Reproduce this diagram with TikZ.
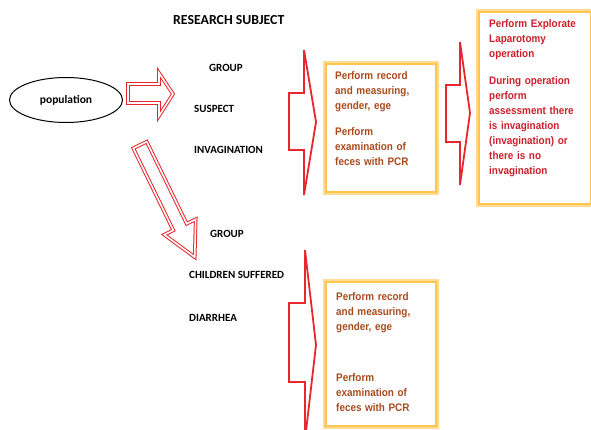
\documentclass[tikz,border=0pt]{standalone}
\usepackage{fontspec}
\usetikzlibrary{shapes.geometric}
\setmainfont{Liberation Sans}
\newfontfamily\calib{Carlito}
\newfontfamily\narrowsans[FakeStretch=0.9]{Liberation Sans}
\definecolor{boxout}{HTML}{FFDC92}
\definecolor{boxin}{HTML}{FFC64F}
\definecolor{txtbrown}{HTML}{A84A1C}
\definecolor{txtred}{HTML}{CC1F2A}
\definecolor{arrred}{HTML}{E8262E}
\tikzset{
  lbl/.style={anchor=west, inner sep=0pt, font=\calib\bfseries\fontsize{11}{13}\selectfont},
  dblarrow/.style={draw=arrred, line width=1pt, double=white, double distance=1.6pt, line join=miter},
  bigarrow/.style={draw=arrred, line width=1.8pt, line join=miter},
  boxtext/.style={anchor=base west, inner sep=0pt, align=left, text width=#1,
    font=\narrowsans\bfseries\fontsize{11}{15}\selectfont},
}
\newcommand{\orangebox}[4]{%
  \draw[boxout, line width=4pt] (#1,#2) rectangle (#3,#4);
  \draw[boxin, line width=1.2pt] (#1+1,#2+1) rectangle (#3-1,#4-1);
}
\begin{document}
\begin{tikzpicture}[x=1pt,y=-1pt]
\useasboundingbox (0,0) rectangle (591,430);
\clip (0,0) rectangle (591,430);
% title
\node[anchor=west, inner sep=0pt, font=\calib\bfseries\fontsize{13.8}{15}\selectfont] (title) at (173,20) {RESEARCH SUBJECT};
% population
\node[draw, ellipse, line width=1pt, minimum width=113pt, minimum height=45pt, inner sep=0pt,
  font=\calib\bfseries\fontsize{11.5}{13}\selectfont] (pop) at (66,100) {population};
% arrow from population
\draw[dblarrow] (128,84) -- (159,84) -- (159,73) -- (173,94) -- (159,116) -- (159,103) -- (128,103) -- cycle;
% labels group 1
\node[lbl] (g1) at (209,68) {GROUP};
\node[lbl] (s1) at (194,109) {SUSPECT};
\node[lbl] (i1) at (194,150) {INVAGINATION};
% big arrow 1
\draw[bigarrow] (289,93) -- (304,93) -- (304,50) -- (316,122) -- (304,195) -- (304,150) -- (289,150) -- cycle;
% box 1
\orangebox{325}{63}{437}{193}
\node[boxtext=100pt, text=txtbrown] (b1a) at (335,80) {Perform record\\and measuring,\\gender, ege};
\node[boxtext=100pt, text=txtbrown] (b1b) at (335,136) {Perform\\examination of\\feces with PCR};
% big arrow 2
\draw[bigarrow] (446,85) -- (460,85) -- (460,42) -- (470,113) -- (460,185) -- (460,142) -- (446,142) -- cycle;
% box 2
\orangebox{478}{11}{592}{205}
\node[boxtext=100pt, text=txtred] (b2a) at (489,28) {Perform Explorate\\Laparotomy\\operation};
\node[boxtext=100pt, text=txtred] (b2b) at (489,85) {During operation\\perform\\assessment there\\is invagination\\(invagination) or\\there is no\\invagination};
% diagonal arrow
\draw[dblarrow] (146.7,141.7) -- (186.7,223.7) -- (195.7,219.3) -- (194.7,257.1) -- (164.3,234.7) -- (173.3,230.3) -- (133.3,148.3) -- cycle;
% labels group 2
\node[lbl] (g2) at (210,234) {GROUP};
\node[lbl] (c2) at (189,275) {CHILDREN SUFFERED};
\node[lbl] (d2) at (189,318) {DIARRHEA};
% big arrow 3
\draw[bigarrow] (289,303) -- (305,303) -- (305,250) -- (316,345) -- (305,440) -- (305,382) -- (289,382) -- cycle;
% box 3
\orangebox{325}{281}{437}{427}
\node[boxtext=100pt, text=txtbrown] (b3a) at (336,300) {Perform record\\and measuring,\\gender, ege};
\node[boxtext=100pt, text=txtbrown] (b3b) at (336,381) {Perform\\examination of\\feces with PCR};
\end{tikzpicture}
\end{document}
